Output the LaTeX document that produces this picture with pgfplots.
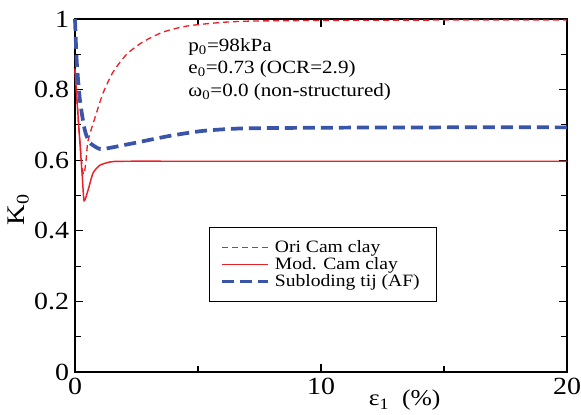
\documentclass[border=0pt]{standalone}
\usepackage{pgfplots}
\pgfplotsset{compat=1.18}
\usepackage{fontspec}
\setmainfont[FakeStretch=1.13]{Liberation Serif}
\definecolor{cred}{RGB}{235,32,38}
\definecolor{cblue}{RGB}{58,84,168}
\begin{document}
\begin{tikzpicture}
\begin{axis}[
  name=ax,
  scale only axis,
  width=369pt, height=264.75pt,
  xmin=0, xmax=20, ymin=0, ymax=1,
  xtick={0,10,20}, minor xtick={5,15},
  ytick={0,0.2,0.4,0.6,0.8,1}, minor ytick={0.1,0.3,0.5,0.7,0.9},
  tick align=inside,
  major tick length=6pt, minor tick length=4.5pt,
  every tick/.style={black, line width=0.8pt},
  axis line style={black, line width=0.9pt},
  /pgf/number format/assume math mode=true,
  ticklabel style={font=\fontsize{18.5}{20}\selectfont},
  xticklabel style={yshift=-1pt},
  yticklabel style={xshift=-1pt},
  clip=false,
  legend style={at={(0.272,0.41)}, anchor=north west, draw=black, line width=0.6pt,
    font=\fontsize{13}{13}\selectfont, inner xsep=8.5pt, inner ysep=8.5pt,
    row sep=0pt,
    nodes={inner xsep=4pt, inner ysep=0pt, text height=9.75pt, text depth=3pt}},
  legend cell align=left,
  legend image code/.code={\draw[#1] (0pt,0pt) -- (34pt,0pt);},
]
\addplot[cred, line width=1pt, dash pattern=on 4.5pt off 3pt, smooth, tension=0.4] coordinates {
(0,0.86) (0.1,0.75) (0.2,0.65) (0.3,0.575) (0.37,0.56) (0.45,0.6) (0.53,0.655) (0.81,0.72)
(1.14,0.79) (1.55,0.85) (2.1,0.9) (2.76,0.935) (3.58,0.963) (4.55,0.98) (5.9,0.99)
(7.1,0.994) (10,0.996) (15,0.997) (20,0.997)};
\addlegendentry{Ori Cam clay}
\addplot[cred, line width=1.1pt, smooth, tension=0.4] coordinates {
(0,0.855) (0.1,0.75) (0.2,0.65) (0.3,0.55) (0.37,0.485) (0.53,0.515) (0.73,0.563)
(1.0,0.585) (1.42,0.595) (2,0.597) (5,0.597) (10,0.597) (20,0.597)};
\addlegendentry{Mod. Cam clay}
\addplot[cblue, line width=2.8pt, dash pattern=on 9pt off 4.5pt, smooth, tension=0.4] coordinates {
(0,1.0) (0.07,0.88) (0.2,0.77) (0.4,0.685) (0.6,0.65) (1.0,0.632) (1.42,0.635)
(2.5,0.65) (3.86,0.669) (5.2,0.683) (6.8,0.69) (10,0.692) (15,0.693) (20,0.693)};
\addlegendentry{Subloding tij (AF)}
\node[anchor=west, font=\fontsize{14}{14}\selectfont, inner sep=0pt] at (axis cs:4.6,0.921) {p\textsubscript{0}=98kPa};
\node[anchor=west, font=\fontsize{14}{14}\selectfont, inner sep=0pt] at (axis cs:4.6,0.858) {e\textsubscript{0}=0.73 (OCR=2.9)};
\node[anchor=west, font=\fontsize{14}{14}\selectfont, inner sep=0pt] at (axis cs:4.6,0.793) {ω\textsubscript{0}=0.0 (non-structured)};
\node[font=\fontsize{19}{20}\selectfont, rotate=90] at (axis description cs:-0.115,0.46) {K\textsubscript{0}};
\node[font=\fontsize{17}{18}\selectfont] at (axis description cs:0.67,-0.08) {ε\textsubscript{1}\ \ (\%)};
\end{axis}
\pgfresetboundingbox
\path[use as bounding box] ([xshift=-56.25pt,yshift=-31.5pt]ax.south west) rectangle ([xshift=10.5pt,yshift=14.25pt]ax.north east);
\end{tikzpicture}
\end{document}
